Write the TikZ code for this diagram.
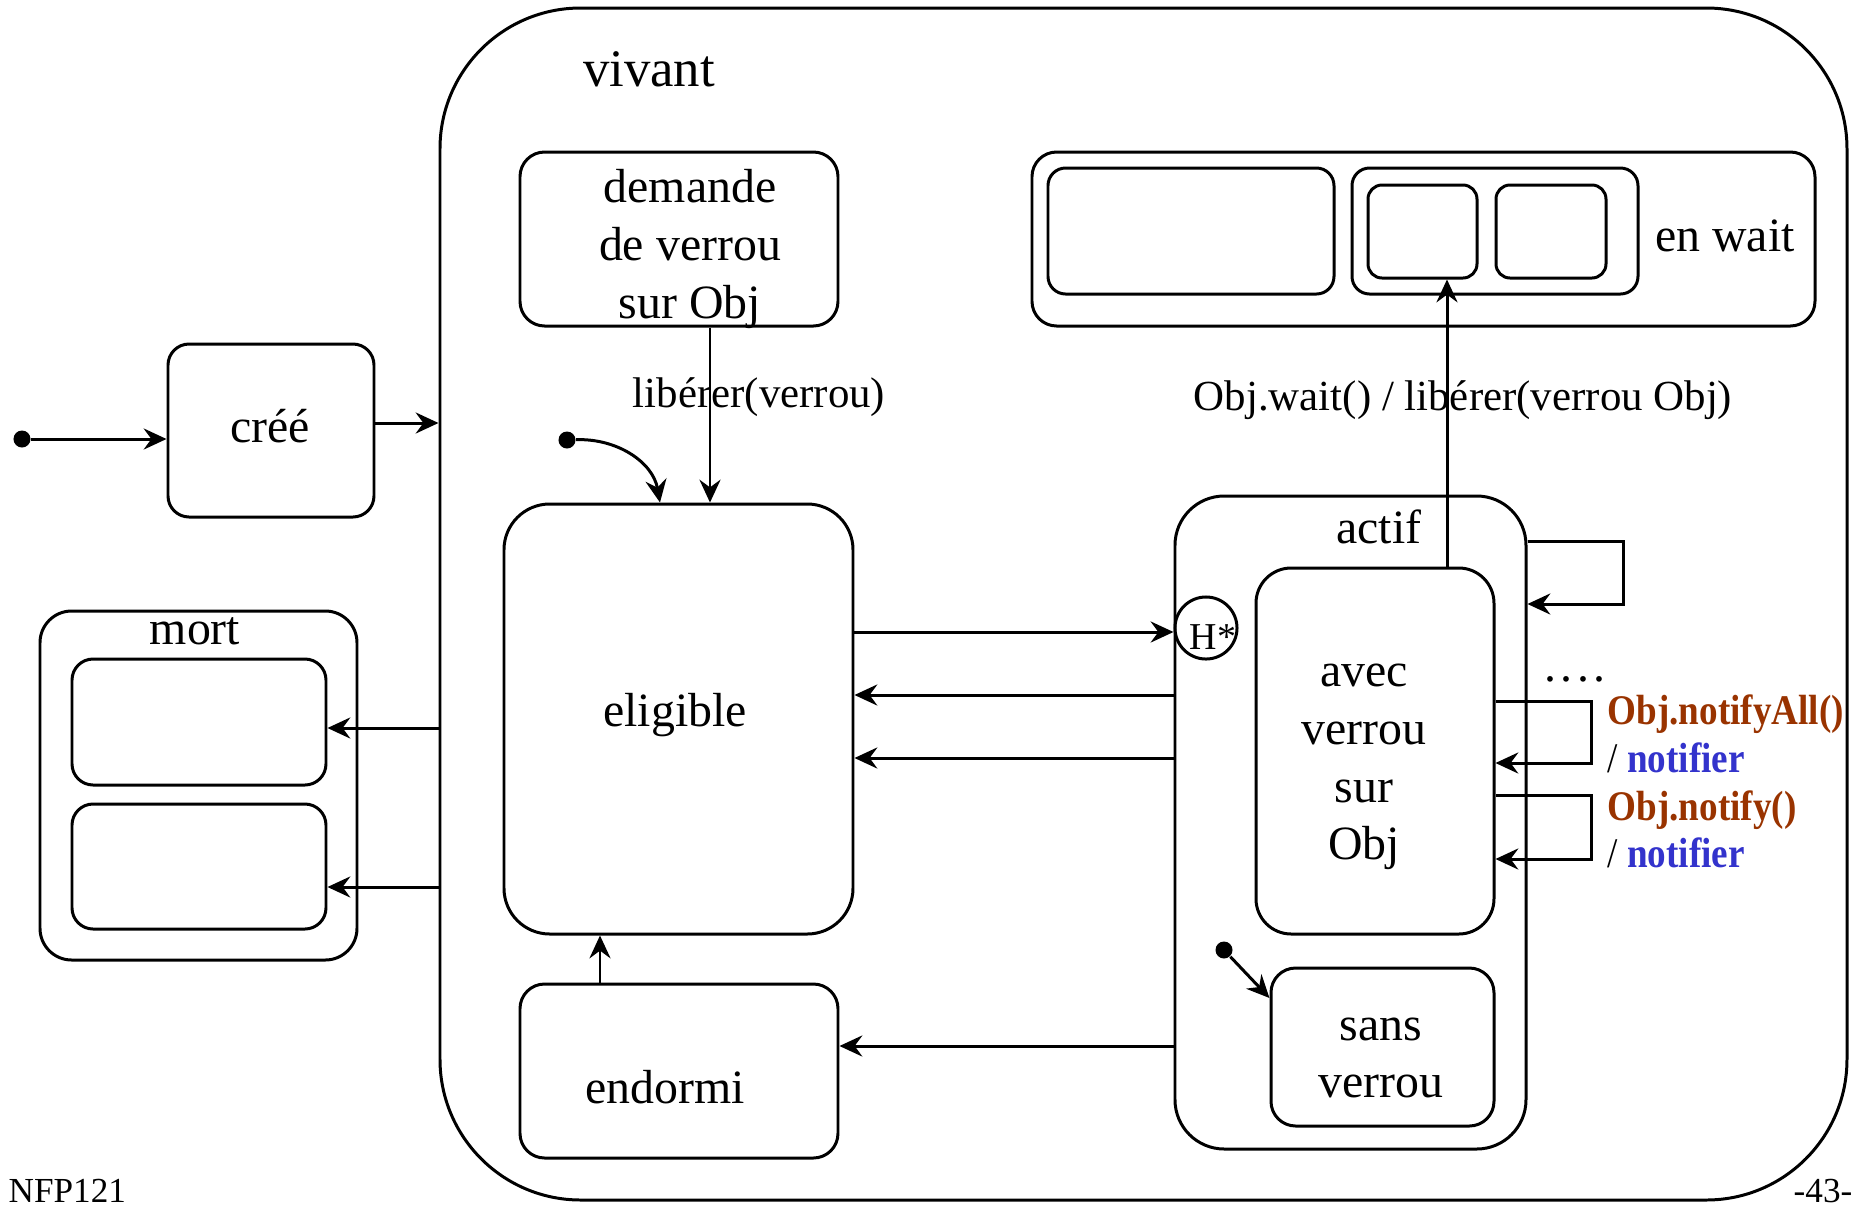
\documentclass[tikz,border=0pt]{standalone}
\usepackage{fontspec}
\usepackage{graphicx}
\setmainfont{Liberation Serif}
\usetikzlibrary{arrows.meta,fit}
\definecolor{brownred}{RGB}{153,51,0}
\definecolor{notblue}{RGB}{51,51,204}
\tikzset{
  box/.style={draw, line width=0.85pt, rounded corners=#1, inner sep=0pt},
  box/.default=6pt,
  arr/.style={-{Stealth[length=6.5pt,width=6pt,inset=2.2pt]}, line width=0.85pt},
  st/.style={inner sep=0pt, font=\fontsize{13.6}{16.4}\selectfont, align=center},
  tl/.style={inner sep=0pt, font=\fontsize{12.2}{14}\selectfont},
  ev/.style={inner sep=0pt, anchor=west, font=\bfseries\fontsize{12}{14}\selectfont},
  initdot/.style={circle, fill, inner sep=0pt, minimum size=0.17cm},
}
\begin{document}
\begin{tikzpicture}[x=0.01cm,y=-0.01cm]
\useasboundingbox (0,0) rectangle (1856,1205);
% containers and states
\node[box=40pt, fit={(440,8)(1847,1200)}] (vivant) {};
\node[st, font=\fontsize{15}{18}\selectfont] (tvivant) at (649,69) {vivant};
\node[box=6pt, fit={(168,344)(374,517)}] (cree) {};
\node[st] (tcree) at (270,426) {créé};
\node[box=9pt, fit={(40,611)(357,960)}] (mort) {};
\node[st] (tmort) at (195,631) {mort};
\node[box=6pt, fit={(72,659)(326,785)}] (mort1) {};
\node[box=6pt, fit={(72,804)(326,929)}] (mort2) {};
\node[box=7pt, fit={(520,152)(838,326)}] (demande) {};
\node[st] (tdemande) at (690,249) {demande\\de verrou\\sur Obj};
\node[box=13pt, fit={(504,504)(853,934)}] (eligible) {};
\node[st] (teligible) at (675,715) {eligible};
\node[box=7pt, fit={(520,984)(838,1158)}] (endormi) {};
\node[st] (tendormi) at (665,1087) {endormi};
\node[box=7pt, fit={(1032,152)(1815,326)}] (enwait) {};
\node[st] (tenwait) at (1725,236) {en wait};
\node[box=5pt, fit={(1048,168)(1334,294)}] (w1) {};
\node[box=5pt, fit={(1352,168)(1638,294)}] (w2) {};
\node[box=4pt, fit={(1368,185)(1477,278)}] (w3) {};
\node[box=4pt, fit={(1496,185)(1606,278)}] (w4) {};
\node[box=14pt, fit={(1175,496)(1526,1149)}] (actif) {};
\node[st] (tactif) at (1379,527) {actif};
\node[box=10pt, fit={(1256,568)(1494,934)}] (avec) {};
\node[st] (tavec) at (1364,767) {avec\\verrou\\sur\\Obj};
\node[box=7pt, fit={(1271,968)(1494,1126)}] (sans) {};
\node[st] (tsans) at (1381,1058) {sans\\verrou};
\node[draw, circle, line width=0.85pt, minimum size=0.62cm, inner sep=0pt] (hstar) at (1206,628) {};
\node[inner sep=0pt, font=\fontsize{10.8}{12}\selectfont] (thstar) at (1213,637) {H*};
% initial pseudo-states
\node[initdot] (i0) at (22,439) {};
\node[initdot] (i1) at (567,440) {};
\node[initdot] (i2) at (1224,950) {};
% transitions
\draw[arr] (i0) -- (cree.west |- i0);
\draw[arr] (cree.east |- 0,423) -- (vivant.west |- 0,423);
\draw[arr] (vivant.west |- 0,728) -- (mort1.east |- 0,728);
\draw[arr] (vivant.west |- 0,887) -- (mort2.east |- 0,887);
\draw[arr] (demande.south -| 710,0) -- (eligible.north -| 710,0);
\node[tl] (tlib) at (759,397) {libérer(verrou)};
\draw[arr] (i1) to[out=2,in=100] (eligible.north -| 660,0);
\draw[arr] (endormi.north -| 600,0) -- (eligible.south -| 600,0);
\draw[arr] (eligible.east |- 0,632) -- (hstar.west |- 0,632);
\draw[arr] (actif.west |- 0,695) -- (eligible.east |- 0,695);
\draw[arr] (actif.west |- 0,758) -- (eligible.east |- 0,758);
\draw[arr] (actif.west |- 0,1046) -- (endormi.east |- 0,1046);
\draw[arr] (avec.north -| 1447,0) -- (w3.south -| 1447,0);
\node[tl] (twait) at (1463,400) {Obj.wait() / libérer(verrou Obj)};
\draw[arr] (i2) -- (sans.west |- 0,998);
\draw[arr] (actif.east |- 0,541) -| (1623,604) -- (actif.east |- 0,604);
\draw[arr] (avec.east |- 0,701) -| (1591,763) -- (avec.east |- 0,763);
\draw[arr] (avec.east |- 0,795) -| (1591,859) -- (avec.east |- 0,859);
\node[st, anchor=base] (tdots) at (1575,681) {.\hspace{1.2pt}.\hspace{1.2pt}.\hspace{1.2pt}.};
\node[ev, text=brownred] (tnall) at (1607,714) {\scalebox{0.88}[1]{Obj.notifyAll()}};
\node[ev] (tnall2) at (1607,758) {\scalebox{0.88}[1]{\mdseries /\ \bfseries\color{notblue}notifier}};
\node[ev, text=brownred] (tn) at (1607,810) {\scalebox{0.88}[1]{Obj.notify()}};
\node[ev] (tn2) at (1607,853) {\scalebox{0.88}[1]{\mdseries /\ \bfseries\color{notblue}notifier}};
% footer
\node[inner sep=0pt, anchor=base west, font=\fontsize{10}{12}\selectfont] (foot1) at (8,1202) {NFP121};
\node[inner sep=0pt, anchor=base west, font=\fontsize{10}{12}\selectfont] (foot2) at (1793,1202) {-43-};
\end{tikzpicture}
\end{document}
